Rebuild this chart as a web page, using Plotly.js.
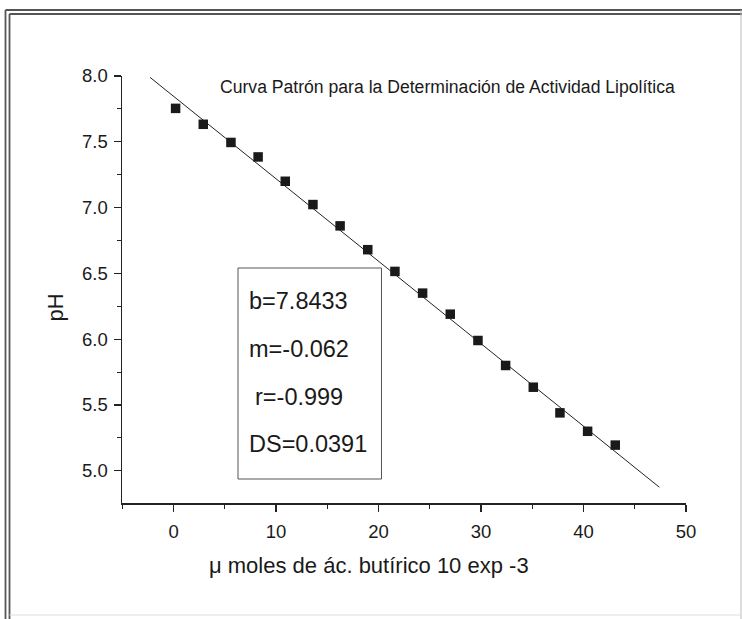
<!DOCTYPE html>
<html>
<head>
<meta charset="utf-8">
<script src="https://cdn.plot.ly/plotly-3.0.1.min.js"></script>
<style>
html,body{margin:0;padding:0;background:#fff;}
#chart{width:742px;height:619px;}
</style>
</head>
<body>
<div id="chart"></div>
<script>
// Data
var xVals = [0.2, 2.9, 5.6, 8.25, 10.9, 13.6, 16.25, 18.95, 21.6, 24.3, 27.0, 29.7, 32.4, 35.1, 37.7, 40.4, 43.1];
var yVals = [7.754, 7.633, 7.495, 7.385, 7.20, 7.023, 6.861, 6.68, 6.515, 6.35, 6.19, 5.99, 5.80, 5.635, 5.44, 5.30, 5.195];
var fitX = [-2.3, 47.4];
var fitY = [7.99, 4.875];
var xTicks = [0, 10, 20, 30, 40, 50];
var yTicks = [5.0, 5.5, 6.0, 6.5, 7.0, 7.5, 8.0];
var titleText = "Curva Patrón para la Determinación de Actividad Lipolítica";
var xTitle = "μ moles de ác. butírico 10 exp -3";
var yTitle = "pH";
var statLines = ["b=7.8433", "m=-0.062", "r=-0.999", "DS=0.0391"];

var W = 742, H = 619, ML = 122, MR = 56, MT = 76, MB = 116;
var PW = W - ML - MR, PH = H - MT - MB;
function px(x){ return (x - ML) / PW; }
function py(y){ return (H - MB - y) / PH; }

var font = "Arial, 'Liberation Sans', sans-serif";
var ink = "#1a1a1a";

var traces = [
  {x: fitX, y: fitY, mode: "lines", line: {color: "#222", width: 1}, hoverinfo: "skip", showlegend: false},
  {x: xVals, y: yVals, mode: "markers", marker: {symbol: "square", size: 9.5, color: "#1a1a1a"}, showlegend: false}
];

var statX = [247, 247, 253, 246.7];
var statY = [301, 349, 397, 444];
var annotations = [
  {xref: "paper", yref: "paper", x: px(218), y: py(87), xanchor: "left", yanchor: "middle",
   text: titleText, showarrow: false, font: {family: font, size: 17.6, color: ink}},
  {xref: "paper", yref: "paper", x: px(369), y: py(565), xanchor: "center", yanchor: "middle",
   text: xTitle, showarrow: false, font: {family: font, size: 22, color: ink}},
  {xref: "paper", yref: "paper", x: px(55), y: py(307.5), xanchor: "center", yanchor: "middle",
   text: yTitle, textangle: -90, showarrow: false, font: {family: font, size: 22, color: ink}}
];
statLines.forEach(function(t, i){
  annotations.push({xref: "paper", yref: "paper", x: px(statX[i]), y: py(statY[i]), xanchor: "left", yanchor: "middle",
    text: t, showarrow: false, font: {family: font, size: 23.5, color: ink}});
});

var bc = "#555";
var shapes = [
  // stats box
  {type: "rect", xref: "paper", yref: "paper", x0: px(238), x1: px(381.5), y0: py(479), y1: py(268), line: {color: "#555", width: 1}},
  // page frame (double lines)
  {type: "line", xref: "paper", yref: "paper", x0: px(5.5), x1: px(742), y0: py(10), y1: py(10), line: {color: bc, width: 1.8}},
  {type: "line", xref: "paper", yref: "paper", x0: px(9.5), x1: px(742), y0: py(14), y1: py(14), line: {color: bc, width: 1.8}},
  {type: "line", xref: "paper", yref: "paper", x0: px(5.5), x1: px(5.5), y0: py(10), y1: py(619), line: {color: bc, width: 1.8}},
  {type: "line", xref: "paper", yref: "paper", x0: px(9.5), x1: px(9.5), y0: py(14), y1: py(619), line: {color: bc, width: 1.8}},
  {type: "line", xref: "paper", yref: "paper", x0: px(741), x1: px(741), y0: py(10), y1: py(619), line: {color: "#bbb", width: 1}},
  {type: "line", xref: "paper", yref: "paper", x0: px(9.5), x1: px(742), y0: py(615), y1: py(615), line: {color: "#ddd", width: 1}}
];

var layout = {
  width: W, height: H,
  margin: {l: ML, r: MR, t: MT, b: MB, pad: 0},
  paper_bgcolor: "#fff", plot_bgcolor: "#fff",
  showlegend: false,
  xaxis: {
    range: [-5.03, 50], tickvals: xTicks, ticktext: xTicks.map(String),
    showline: true, linecolor: "#222", linewidth: 1.5, mirror: false,
    ticks: "outside", ticklen: 7, tickwidth: 1.2, tickcolor: "#222",
    minor: {dtick: 5, tick0: 0, ticks: "outside", ticklen: 4, tickwidth: 1, tickcolor: "#222"},
    showgrid: false, zeroline: false,
    tickfont: {family: font, size: 18.5, color: ink}, ticklabelstandoff: 4
  },
  yaxis: {
    range: [4.755, 8.0], tickvals: yTicks, ticktext: yTicks.map(function(v){return v.toFixed(1);}),
    showline: true, linecolor: "#222", linewidth: 1.5, mirror: false,
    ticks: "outside", ticklen: 7, tickwidth: 1.2, tickcolor: "#222",
    minor: {dtick: 0.25, tick0: 0, ticks: "outside", ticklen: 4, tickwidth: 1, tickcolor: "#222"},
    showgrid: false, zeroline: false,
    tickfont: {family: font, size: 18.5, color: ink}, ticklabelstandoff: 2
  },
  annotations: annotations,
  shapes: shapes
};

Plotly.newPlot("chart", traces, layout, {displayModeBar: false, staticPlot: true});
</script>
</body>
</html>
